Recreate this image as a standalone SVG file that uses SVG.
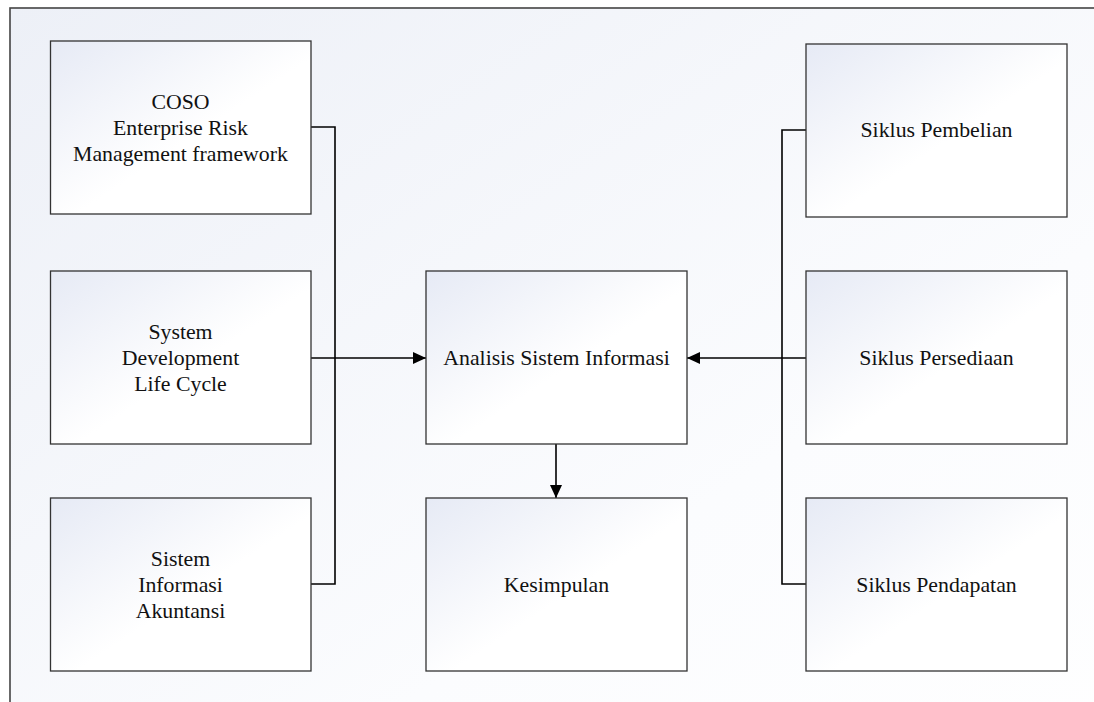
<svg xmlns="http://www.w3.org/2000/svg" width="1094" height="702" viewBox="0 0 1094 702">
<defs>
<linearGradient id="bg" x1="0" y1="0" x2="1" y2="1">
<stop offset="0" stop-color="#edf0f7"/>
<stop offset="0.6" stop-color="#fbfcfe"/>
<stop offset="1" stop-color="#ffffff"/>
</linearGradient>
<linearGradient id="box" x1="0" y1="0" x2="1" y2="1">
<stop offset="0" stop-color="#e6eaf5"/>
<stop offset="0.55" stop-color="#ffffff"/>
<stop offset="1" stop-color="#ffffff"/>
</linearGradient>
<marker id="arr" viewBox="0 0 13 12" refX="13" refY="6" markerWidth="13" markerHeight="12" markerUnits="userSpaceOnUse" orient="auto">
<path d="M0,0 L13,6 L0,12 Z" fill="#000"/>
</marker>
<style>
.node rect{fill:url(#box);stroke:#333;stroke-width:1.3}
.node text{font-family:"Liberation Serif","Times New Roman",serif;font-size:21.8px;fill:#111;text-anchor:middle;dominant-baseline:central}
.conn{fill:none;stroke:#000;stroke-width:1.6}
</style>
</defs>
<rect x="0" y="0" width="1094" height="702" fill="#ffffff"/>
<rect x="10" y="8" width="1200" height="800" fill="url(#bg)" stroke="#444" stroke-width="1.6"/>
<g id="connectors">
<polyline class="conn" points="311,127 335,127 335,584 311,584"/>
<line class="conn" x1="311" y1="358" x2="426" y2="358" marker-end="url(#arr)"/>
<polyline class="conn" points="806,130 782,130 782,584 806,584"/>
<line class="conn" x1="806" y1="358" x2="687" y2="358" marker-end="url(#arr)"/>
<line class="conn" x1="556" y1="444" x2="556" y2="498" marker-end="url(#arr)"/>
</g>
<g id="coso" class="node">
<rect x="50.5" y="41" width="260.5" height="173"/>
<text x="180.5" y="101.5">COSO</text>
<text x="180.5" y="127.5">Enterprise Risk</text>
<text x="180.5" y="153.5">Management framework</text>
</g>
<g id="sdlc" class="node">
<rect x="50.5" y="271" width="260.5" height="173"/>
<text x="180.5" y="332">System</text>
<text x="180.5" y="358">Development</text>
<text x="180.5" y="384">Life Cycle</text>
</g>
<g id="sia" class="node">
<rect x="50.5" y="498" width="260.5" height="173"/>
<text x="180.5" y="558.5">Sistem</text>
<text x="180.5" y="584.5">Informasi</text>
<text x="180.5" y="610.5">Akuntansi</text>
</g>
<g id="analisis" class="node">
<rect x="426" y="271" width="261" height="173"/>
<text x="556.5" y="357.5">Analisis Sistem Informasi</text>
</g>
<g id="kesimpulan" class="node">
<rect x="426" y="498" width="261" height="173"/>
<text x="556.5" y="584.5">Kesimpulan</text>
</g>
<g id="pembelian" class="node">
<rect x="806" y="44" width="261" height="173"/>
<text x="936.5" y="130">Siklus Pembelian</text>
</g>
<g id="persediaan" class="node">
<rect x="806" y="271" width="261" height="173"/>
<text x="936.5" y="357.5">Siklus Persediaan</text>
</g>
<g id="pendapatan" class="node">
<rect x="806" y="498" width="261" height="173"/>
<text x="936.5" y="584.5">Siklus Pendapatan</text>
</g>
</svg>
